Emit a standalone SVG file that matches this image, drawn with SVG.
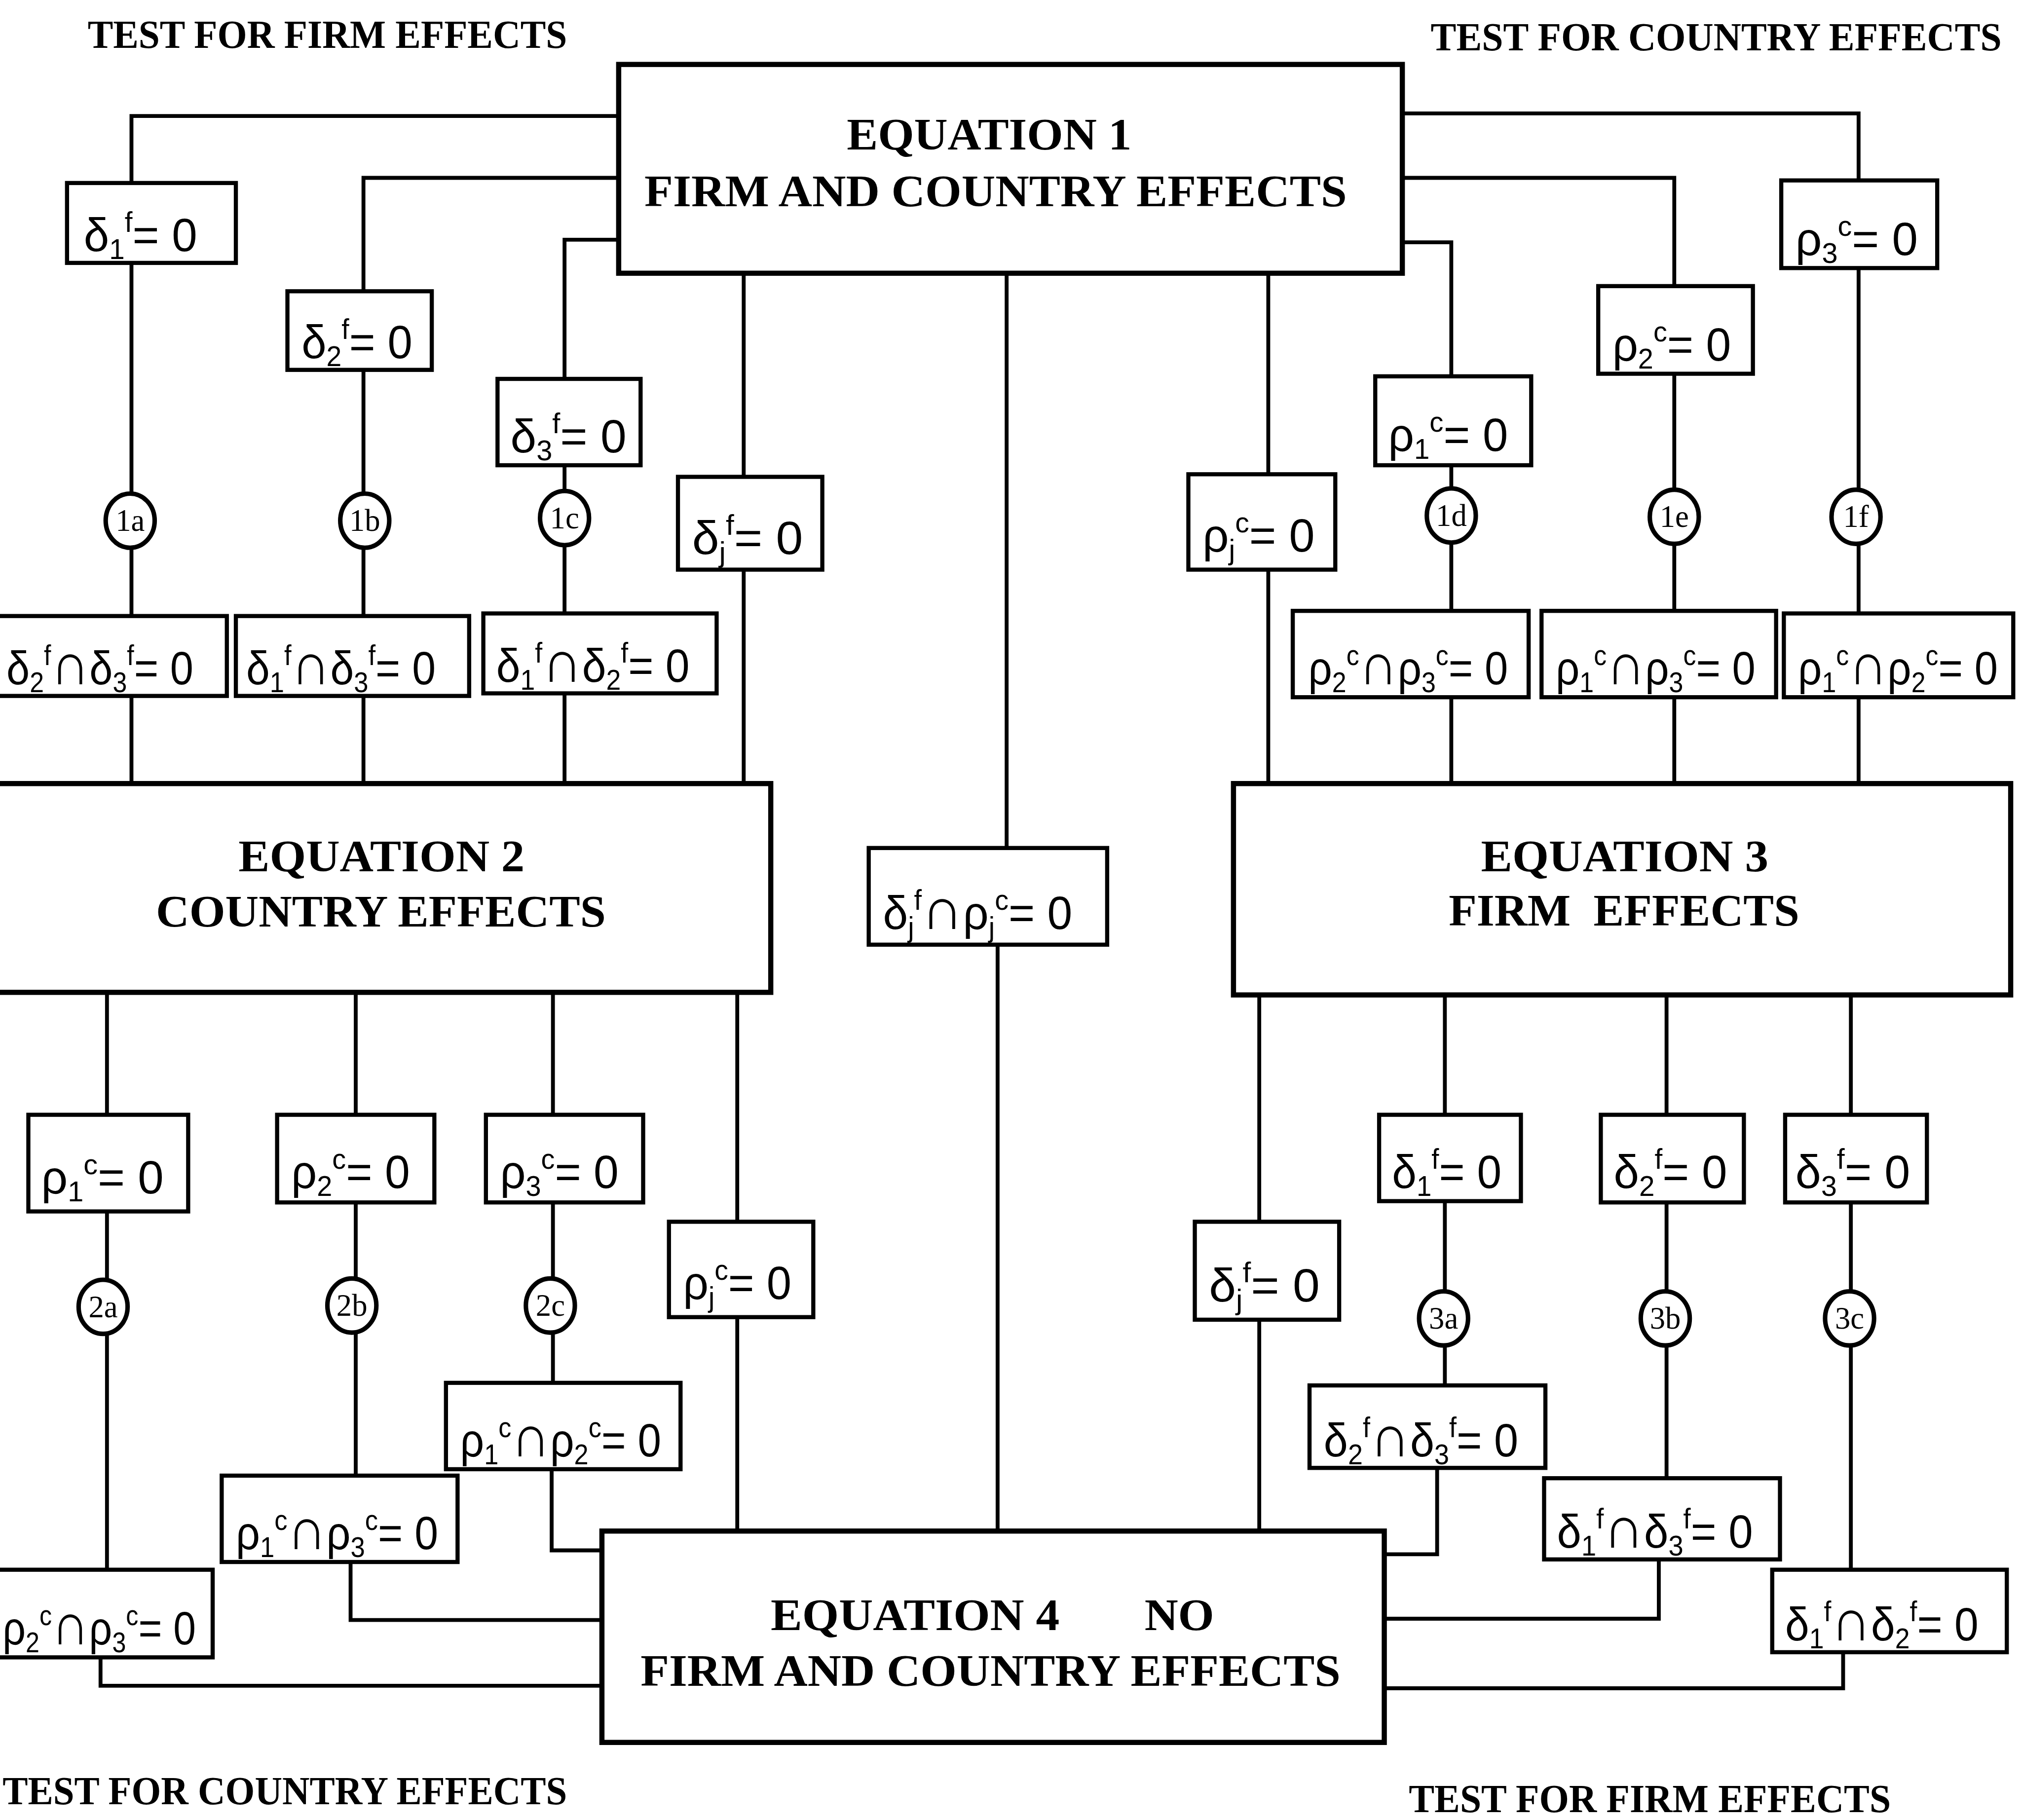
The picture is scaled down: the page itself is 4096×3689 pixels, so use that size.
<svg xmlns="http://www.w3.org/2000/svg" width="4096" height="3689" viewBox="0 0 4096 3689">
<style>
.bg{fill:#fff}
.box{fill:#fff;stroke:#000;stroke-width:3.2}
.ebox{fill:#fff;stroke:#000;stroke-width:4}
.ln{fill:none;stroke:#000;stroke-width:3}
.h{font-family:"Liberation Serif","Times New Roman",serif;font-weight:bold;font-size:35px;fill:#000}
.t{font-size:31px}
.m{font-family:"Liberation Sans","DejaVu Sans",sans-serif;font-size:36px;fill:#000}
.s{font-size:22px}
.k{font-size:46px}
.cl{font-family:"Liberation Serif",serif;font-size:24px;fill:#000;text-anchor:middle}
.circ{fill:#fff;stroke:#000;stroke-width:3.5}
</style>
<rect class="bg" x="0" y="0" width="4096" height="3689"/>
<g transform="scale(2.61224)">
<g id="titles">
<text class="h t" x="68" y="37" textLength="372" lengthAdjust="spacingAndGlyphs">TEST FOR FIRM EFFECTS</text>
<text class="h t" x="1110" y="39" textLength="443" lengthAdjust="spacingAndGlyphs">TEST FOR COUNTRY EFFECTS</text>
<text class="h t" x="2" y="1400" textLength="438" lengthAdjust="spacingAndGlyphs">TEST FOR COUNTRY EFFECTS</text>
<text class="h t" x="1093" y="1406" textLength="374" lengthAdjust="spacingAndGlyphs">TEST FOR FIRM EFFECTS</text>
</g>
<g id="connectors">
<path class="ln" d="M480,90 H102 V608"/>
<path class="ln" d="M480,138 H282 V608"/>
<path class="ln" d="M480,186 H438 V608"/>
<path class="ln" d="M577,212 V608"/>
<path class="ln" d="M781,212 V700"/>
<path class="ln" d="M774,700 V1188"/>
<path class="ln" d="M1088,88 H1442 V608"/>
<path class="ln" d="M1088,138 H1299 V608"/>
<path class="ln" d="M1088,188 H1126 V608"/>
<path class="ln" d="M984,212 V608"/>
<path class="ln" d="M83,770 V1250"/>
<path class="ln" d="M78,1250 V1308 H467"/>
<path class="ln" d="M276,770 V1180"/>
<path class="ln" d="M272,1180 V1257 H467"/>
<path class="ln" d="M429,770 V1105"/>
<path class="ln" d="M428,1105 V1203 H467"/>
<path class="ln" d="M572,770 V1188"/>
<path class="ln" d="M977,772 V1188"/>
<path class="ln" d="M1121,772 V1105"/>
<path class="ln" d="M1115,1105 V1206 H1074"/>
<path class="ln" d="M1293,772 V1180"/>
<path class="ln" d="M1287,1180 V1256 H1074"/>
<path class="ln" d="M1436,772 V1250"/>
<path class="ln" d="M1430,1250 V1310 H1074"/>
</g>
<g id="eq1">
<rect class="ebox" x="480" y="50" width="608" height="162"/>
<text class="h" x="657" y="116" textLength="221" lengthAdjust="spacingAndGlyphs">EQUATION 1</text>
<text class="h" x="500" y="160" textLength="545" lengthAdjust="spacingAndGlyphs">FIRM AND COUNTRY EFFECTS</text>
</g>
<g id="eq2">
<rect class="ebox" x="-6" y="608" width="604" height="162"/>
<text class="h" x="185" y="676" textLength="222" lengthAdjust="spacingAndGlyphs">EQUATION 2</text>
<text class="h" x="121" y="719" textLength="349" lengthAdjust="spacingAndGlyphs">COUNTRY EFFECTS</text>
</g>
<g id="eq3">
<rect class="ebox" x="957" y="608" width="603" height="164"/>
<text class="h" x="1149" y="676" textLength="223" lengthAdjust="spacingAndGlyphs">EQUATION 3</text>
<text class="h" x="1124" y="718" textLength="272" lengthAdjust="spacingAndGlyphs" xml:space="preserve">FIRM  EFFECTS</text>
</g>
<g id="eq4">
<rect class="ebox" x="467" y="1188" width="607" height="164"/>
<text class="h" x="598" y="1265" textLength="224" lengthAdjust="spacingAndGlyphs">EQUATION 4</text>
<text class="h" x="888" y="1265" textLength="54" lengthAdjust="spacingAndGlyphs">NO</text>
<text class="h" x="497" y="1308" textLength="543" lengthAdjust="spacingAndGlyphs">FIRM AND COUNTRY EFFECTS</text>
</g>
<g id="b-d1f-top"><rect class="box" x="52" y="142" width="131" height="62"/>
<text class="m" x="65" y="195" textLength="88" lengthAdjust="spacingAndGlyphs">δ<tspan class="s" dy="6">1</tspan><tspan class="s" dy="-21">f</tspan><tspan dy="15">= 0</tspan></text></g>
<g id="b-d2f-top"><rect class="box" x="223" y="226" width="112" height="61"/>
<text class="m" x="234" y="278" textLength="86" lengthAdjust="spacingAndGlyphs">δ<tspan class="s" dy="6">2</tspan><tspan class="s" dy="-21">f</tspan><tspan dy="15">= 0</tspan></text></g>
<g id="b-d3f-top"><rect class="box" x="386" y="294" width="111" height="67"/>
<text class="m" x="396" y="351" textLength="90" lengthAdjust="spacingAndGlyphs">δ<tspan class="s" dy="6">3</tspan><tspan class="s" dy="-21">f</tspan><tspan dy="15">= 0</tspan></text></g>
<g id="b-djf-top"><rect class="box" x="526" y="370" width="112" height="72"/>
<text class="m" x="537" y="430" textLength="86" lengthAdjust="spacingAndGlyphs">δ<tspan class="s" dy="6">j</tspan><tspan class="s" dy="-21">f</tspan><tspan dy="15">= 0</tspan></text></g>
<g id="c1a"><ellipse class="circ" cx="101" cy="404" rx="19" ry="21"/><text class="cl" x="101" y="412">1a</text></g>
<g id="c1b"><ellipse class="circ" cx="283" cy="404" rx="19" ry="21"/><text class="cl" x="283" y="412">1b</text></g>
<g id="c1c"><ellipse class="circ" cx="438" cy="402" rx="19" ry="21"/><text class="cl" x="438" y="410">1c</text></g>
<g id="b-d2d3-top"><rect class="box" x="-4" y="478" width="180" height="62"/>
<text class="m" x="5" y="531" textLength="145" lengthAdjust="spacingAndGlyphs">δ<tspan class="s" dy="6">2</tspan><tspan class="s" dy="-21">f</tspan><tspan class="k" dy="15">∩</tspan>δ<tspan class="s" dy="6">3</tspan><tspan class="s" dy="-21">f</tspan><tspan dy="15">= 0</tspan></text></g>
<g id="b-d1d3-top"><rect class="box" x="183" y="478" width="181" height="62"/>
<text class="m" x="191" y="531" textLength="147" lengthAdjust="spacingAndGlyphs">δ<tspan class="s" dy="6">1</tspan><tspan class="s" dy="-21">f</tspan><tspan class="k" dy="15">∩</tspan>δ<tspan class="s" dy="6">3</tspan><tspan class="s" dy="-21">f</tspan><tspan dy="15">= 0</tspan></text></g>
<g id="b-d1d2-top"><rect class="box" x="375" y="476" width="181" height="62"/>
<text class="m" x="385" y="529" textLength="150" lengthAdjust="spacingAndGlyphs">δ<tspan class="s" dy="6">1</tspan><tspan class="s" dy="-21">f</tspan><tspan class="k" dy="15">∩</tspan>δ<tspan class="s" dy="6">2</tspan><tspan class="s" dy="-21">f</tspan><tspan dy="15">= 0</tspan></text></g>
<g id="b-r3c-top"><rect class="box" x="1382" y="140" width="121" height="68"/>
<text class="m" x="1393" y="198" textLength="95" lengthAdjust="spacingAndGlyphs">ρ<tspan class="s" dy="6">3</tspan><tspan class="s" dy="-21">c</tspan><tspan dy="15">= 0</tspan></text></g>
<g id="b-r2c-top"><rect class="box" x="1240" y="222" width="120" height="68"/>
<text class="m" x="1251" y="280" textLength="92" lengthAdjust="spacingAndGlyphs">ρ<tspan class="s" dy="6">2</tspan><tspan class="s" dy="-21">c</tspan><tspan dy="15">= 0</tspan></text></g>
<g id="b-r1c-top"><rect class="box" x="1067" y="292" width="121" height="69"/>
<text class="m" x="1077" y="350" textLength="93" lengthAdjust="spacingAndGlyphs">ρ<tspan class="s" dy="6">1</tspan><tspan class="s" dy="-21">c</tspan><tspan dy="15">= 0</tspan></text></g>
<g id="b-rjc-top"><rect class="box" x="922" y="368" width="114" height="74"/>
<text class="m" x="933" y="428" textLength="87" lengthAdjust="spacingAndGlyphs">ρ<tspan class="s" dy="6">j</tspan><tspan class="s" dy="-21">c</tspan><tspan dy="15">= 0</tspan></text></g>
<g id="c1d"><ellipse class="circ" cx="1126" cy="400" rx="19" ry="21"/><text class="cl" x="1126" y="408">1d</text></g>
<g id="c1e"><ellipse class="circ" cx="1299" cy="401" rx="19" ry="21"/><text class="cl" x="1299" y="409">1e</text></g>
<g id="c1f"><ellipse class="circ" cx="1440" cy="401" rx="19" ry="21"/><text class="cl" x="1440" y="409">1f</text></g>
<g id="b-r2r3-top"><rect class="box" x="1003" y="474" width="183" height="67"/>
<text class="m" x="1015" y="531" textLength="155" lengthAdjust="spacingAndGlyphs">ρ<tspan class="s" dy="6">2</tspan><tspan class="s" dy="-21">c</tspan><tspan class="k" dy="15">∩</tspan>ρ<tspan class="s" dy="6">3</tspan><tspan class="s" dy="-21">c</tspan><tspan dy="15">= 0</tspan></text></g>
<g id="b-r1r3-top"><rect class="box" x="1196" y="474" width="182" height="67"/>
<text class="m" x="1207" y="531" textLength="155" lengthAdjust="spacingAndGlyphs">ρ<tspan class="s" dy="6">1</tspan><tspan class="s" dy="-21">c</tspan><tspan class="k" dy="15">∩</tspan>ρ<tspan class="s" dy="6">3</tspan><tspan class="s" dy="-21">c</tspan><tspan dy="15">= 0</tspan></text></g>
<g id="b-r1r2-top"><rect class="box" x="1384" y="476" width="178" height="65"/>
<text class="m" x="1395" y="531" textLength="155" lengthAdjust="spacingAndGlyphs">ρ<tspan class="s" dy="6">1</tspan><tspan class="s" dy="-21">c</tspan><tspan class="k" dy="15">∩</tspan>ρ<tspan class="s" dy="6">2</tspan><tspan class="s" dy="-21">c</tspan><tspan dy="15">= 0</tspan></text></g>
<g id="b-djrj"><rect class="box" x="674" y="658" width="185" height="75"/>
<text class="m" x="685" y="721" textLength="147" lengthAdjust="spacingAndGlyphs">δ<tspan class="s" dy="6">j</tspan><tspan class="s" dy="-21">f</tspan><tspan class="k" dy="15">∩</tspan>ρ<tspan class="s" dy="6">j</tspan><tspan class="s" dy="-21">c</tspan><tspan dy="15">= 0</tspan></text></g>
<g id="b-r1c-bot"><rect class="box" x="22" y="865" width="124" height="75"/>
<text class="m" x="32" y="926" textLength="95" lengthAdjust="spacingAndGlyphs">ρ<tspan class="s" dy="6">1</tspan><tspan class="s" dy="-21">c</tspan><tspan dy="15">= 0</tspan></text></g>
<g id="b-r2c-bot"><rect class="box" x="215" y="865" width="122" height="68"/>
<text class="m" x="226" y="922" textLength="92" lengthAdjust="spacingAndGlyphs">ρ<tspan class="s" dy="6">2</tspan><tspan class="s" dy="-21">c</tspan><tspan dy="15">= 0</tspan></text></g>
<g id="b-r3c-bot"><rect class="box" x="377" y="865" width="122" height="68"/>
<text class="m" x="388" y="922" textLength="92" lengthAdjust="spacingAndGlyphs">ρ<tspan class="s" dy="6">3</tspan><tspan class="s" dy="-21">c</tspan><tspan dy="15">= 0</tspan></text></g>
<g id="b-rjc-bot"><rect class="box" x="519" y="948" width="112" height="74"/>
<text class="m" x="530" y="1008" textLength="84" lengthAdjust="spacingAndGlyphs">ρ<tspan class="s" dy="6">j</tspan><tspan class="s" dy="-21">c</tspan><tspan dy="15">= 0</tspan></text></g>
<g id="c2a"><ellipse class="circ" cx="80" cy="1014" rx="19" ry="21"/><text class="cl" x="80" y="1022">2a</text></g>
<g id="c2b"><ellipse class="circ" cx="273" cy="1013" rx="19" ry="21"/><text class="cl" x="273" y="1021">2b</text></g>
<g id="c2c"><ellipse class="circ" cx="427" cy="1013" rx="19" ry="21"/><text class="cl" x="427" y="1021">2c</text></g>
<g id="b-r2r3-bot"><rect class="box" x="-4" y="1218" width="169" height="68"/>
<text class="m" x="2" y="1276" textLength="150" lengthAdjust="spacingAndGlyphs">ρ<tspan class="s" dy="6">2</tspan><tspan class="s" dy="-21">c</tspan><tspan class="k" dy="15">∩</tspan>ρ<tspan class="s" dy="6">3</tspan><tspan class="s" dy="-21">c</tspan><tspan dy="15">= 0</tspan></text></g>
<g id="b-r1r3-bot"><rect class="box" x="172" y="1145" width="183" height="67"/>
<text class="m" x="183" y="1202" textLength="157" lengthAdjust="spacingAndGlyphs">ρ<tspan class="s" dy="6">1</tspan><tspan class="s" dy="-21">c</tspan><tspan class="k" dy="15">∩</tspan>ρ<tspan class="s" dy="6">3</tspan><tspan class="s" dy="-21">c</tspan><tspan dy="15">= 0</tspan></text></g>
<g id="b-r1r2-bot"><rect class="box" x="346" y="1073" width="182" height="67"/>
<text class="m" x="357" y="1130" textLength="156" lengthAdjust="spacingAndGlyphs">ρ<tspan class="s" dy="6">1</tspan><tspan class="s" dy="-21">c</tspan><tspan class="k" dy="15">∩</tspan>ρ<tspan class="s" dy="6">2</tspan><tspan class="s" dy="-21">c</tspan><tspan dy="15">= 0</tspan></text></g>
<g id="b-djf-bot"><rect class="box" x="927" y="948" width="112" height="76"/>
<text class="m" x="938" y="1010" textLength="86" lengthAdjust="spacingAndGlyphs">δ<tspan class="s" dy="6">j</tspan><tspan class="s" dy="-21">f</tspan><tspan dy="15">= 0</tspan></text></g>
<g id="b-d1f-bot"><rect class="box" x="1070" y="865" width="110" height="67"/>
<text class="m" x="1080" y="922" textLength="85" lengthAdjust="spacingAndGlyphs">δ<tspan class="s" dy="6">1</tspan><tspan class="s" dy="-21">f</tspan><tspan dy="15">= 0</tspan></text></g>
<g id="b-d2f-bot"><rect class="box" x="1242" y="865" width="111" height="68"/>
<text class="m" x="1252" y="922" textLength="88" lengthAdjust="spacingAndGlyphs">δ<tspan class="s" dy="6">2</tspan><tspan class="s" dy="-21">f</tspan><tspan dy="15">= 0</tspan></text></g>
<g id="b-d3f-bot"><rect class="box" x="1385" y="865" width="110" height="68"/>
<text class="m" x="1393" y="922" textLength="89" lengthAdjust="spacingAndGlyphs">δ<tspan class="s" dy="6">3</tspan><tspan class="s" dy="-21">f</tspan><tspan dy="15">= 0</tspan></text></g>
<g id="c3a"><ellipse class="circ" cx="1120" cy="1023" rx="19" ry="21"/><text class="cl" x="1120" y="1031">3a</text></g>
<g id="c3b"><ellipse class="circ" cx="1292" cy="1023" rx="19" ry="21"/><text class="cl" x="1292" y="1031">3b</text></g>
<g id="c3c"><ellipse class="circ" cx="1435" cy="1023" rx="19" ry="21"/><text class="cl" x="1435" y="1031">3c</text></g>
<g id="b-d2d3-bot"><rect class="box" x="1016" y="1075" width="183" height="64"/>
<text class="m" x="1027" y="1130" textLength="151" lengthAdjust="spacingAndGlyphs">δ<tspan class="s" dy="6">2</tspan><tspan class="s" dy="-21">f</tspan><tspan class="k" dy="15">∩</tspan>δ<tspan class="s" dy="6">3</tspan><tspan class="s" dy="-21">f</tspan><tspan dy="15">= 0</tspan></text></g>
<g id="b-d1d3-bot"><rect class="box" x="1198" y="1147" width="183" height="63"/>
<text class="m" x="1208" y="1201" textLength="152" lengthAdjust="spacingAndGlyphs">δ<tspan class="s" dy="6">1</tspan><tspan class="s" dy="-21">f</tspan><tspan class="k" dy="15">∩</tspan>δ<tspan class="s" dy="6">3</tspan><tspan class="s" dy="-21">f</tspan><tspan dy="15">= 0</tspan></text></g>
<g id="b-d1d2-bot"><rect class="box" x="1375" y="1218" width="182" height="64"/>
<text class="m" x="1385" y="1273" textLength="150" lengthAdjust="spacingAndGlyphs">δ<tspan class="s" dy="6">1</tspan><tspan class="s" dy="-21">f</tspan><tspan class="k" dy="15">∩</tspan>δ<tspan class="s" dy="6">2</tspan><tspan class="s" dy="-21">f</tspan><tspan dy="15">= 0</tspan></text></g>
</g>
</svg>
